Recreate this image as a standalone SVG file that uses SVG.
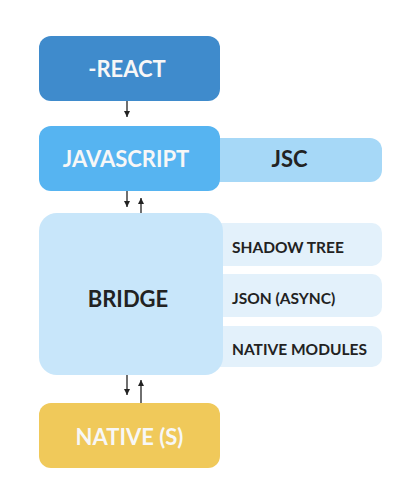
<svg xmlns="http://www.w3.org/2000/svg" width="406" height="496" viewBox="0 0 406 496">
  <defs>
    <style>
      .lbl { font-family: Lato, "Noto Sans", "Liberation Sans", sans-serif; font-weight: bold; text-anchor: middle; font-size: 22px; }
      .light { fill: #f7f7f7; }
      .dark { fill: #222222; }
      .side { font-family: Lato, "Noto Sans", "Liberation Sans", sans-serif; font-weight: bold; font-size: 15.5px; fill: #222222; }
      .conn { stroke: #222222; stroke-width: 1.3; fill: none; }
    </style>
    <marker id="ah" viewBox="0 0 10 10" refX="10" refY="5" markerWidth="6" markerHeight="6" markerUnits="userSpaceOnUse" orient="auto">
      <path d="M0,0 L10,5 L0,10 z" fill="#222222"/>
    </marker>
  </defs>
  <rect width="406" height="496" fill="#ffffff"/>

  <g id="jsc">
    <rect x="200" y="138" width="182" height="44" rx="12" fill="#a6d8f7"/>
    <text class="lbl dark" x="289.5" y="167">JSC</text>
  </g>
  <g id="shadow-tree">
    <rect x="200" y="223" width="182" height="43" rx="10" fill="#e3f1fb"/>
    <text class="side" x="232" y="253">SHADOW TREE</text>
  </g>
  <g id="json-async">
    <rect x="200" y="274" width="182" height="43" rx="10" fill="#e3f1fb"/>
    <text class="side" x="232" y="304">JSON (ASYNC)</text>
  </g>
  <g id="native-modules">
    <rect x="200" y="326" width="182" height="41" rx="10" fill="#e3f1fb"/>
    <text class="side" x="232" y="355">NATIVE MODULES</text>
  </g>

  <g id="react">
    <rect x="39" y="36" width="181" height="65" rx="12" fill="#3f8bcc"/>
    <text class="lbl light" x="127" y="77">-REACT</text>
  </g>
  <g id="javascript">
    <rect x="39" y="126" width="181" height="65" rx="12" fill="#56b4f1"/>
    <text class="lbl light" x="126" y="167">JAVASCRIPT</text>
  </g>
  <g id="bridge">
    <rect x="39" y="213" width="184" height="162" rx="18" fill="#c8e6fa"/>
    <text class="lbl dark" x="128" y="307">BRIDGE</text>
  </g>
  <g id="native">
    <rect x="39" y="403" width="181" height="65" rx="12" fill="#f0c95a"/>
    <text class="lbl light" x="129.5" y="445">NATIVE (S)</text>
  </g>

  <g id="connectors">
    <line class="conn" x1="127" y1="101" x2="127" y2="117" marker-end="url(#ah)"/>
    <line class="conn" x1="127" y1="191" x2="127" y2="207" marker-end="url(#ah)"/>
    <line class="conn" x1="141" y1="213" x2="141" y2="198" marker-end="url(#ah)"/>
    <line class="conn" x1="127" y1="375" x2="127" y2="395" marker-end="url(#ah)"/>
    <line class="conn" x1="141" y1="403" x2="141" y2="380" marker-end="url(#ah)"/>
  </g>
</svg>
